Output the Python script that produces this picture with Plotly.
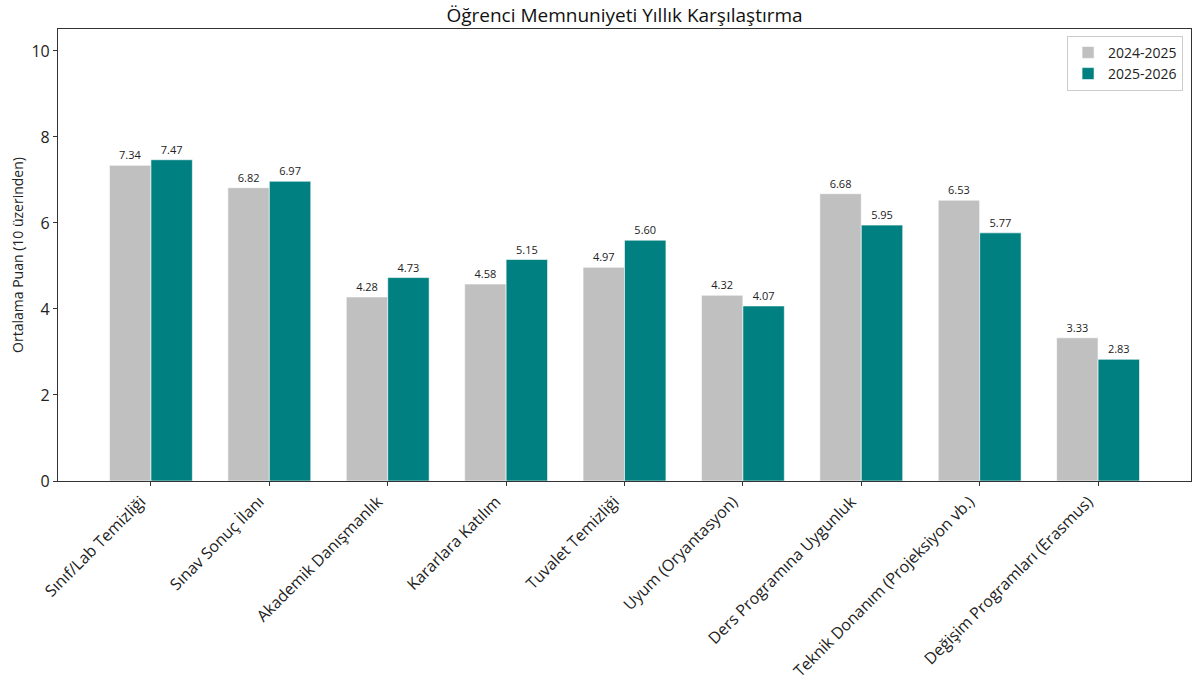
import plotly.graph_objects as go

categories = [
    "Sınıf/Lab Temizliği",
    "Sınav Sonuç İlanı",
    "Akademik Danışmanlık",
    "Kararlara Katılım",
    "Tuvalet Temizliği",
    "Uyum (Oryantasyon)",
    "Ders Programına Uygunluk",
    "Teknik Donanım (Projeksiyon vb.)",
    "Değişim Programları (Erasmus)",
]
series_names = ["2024-2025", "2025-2026"]
values_2024 = [7.34, 6.82, 4.28, 4.58, 4.97, 4.32, 6.68, 6.53, 3.33]
values_2025 = [7.47, 6.97, 4.73, 5.15, 5.60, 4.07, 5.95, 5.77, 2.83]
y_ticks = [0, 2, 4, 6, 8, 10]

FONT = "Open Sans"
colors = ["#C0C0C0", "#008080"]
W, H = 1198, 681

fig = go.Figure()
for name, vals, col in zip(series_names, [values_2024, values_2025], colors):
    fig.add_trace(go.Bar(
        x=categories, y=vals, name=name,
        marker=dict(color=col, line=dict(color="white", width=0.6)),
        text=[f"{v:.2f}" for v in vals],
        textposition="outside",
        cliponaxis=False,
        textfont=dict(family=FONT, size=11, color="#222222"),
    ))

fig.update_layout(
    width=W, height=H,
    margin=dict(l=58, r=7, t=29, b=200, autoexpand=False),
    paper_bgcolor="white", plot_bgcolor="white",
    barmode="group", bargap=0.3, bargroupgap=0,
    font=dict(family=FONT, color="#222222"),
    title=dict(text="Öğrenci Memnuniyeti Yıllık Karşılaştırma",
               x=0.5, xref="paper", xanchor="center",
               y=1 - 15 / H, yanchor="middle",
               font=dict(family=FONT, size=19, color="#111111")),
    showlegend=True,
    legend=dict(x=0.993, y=0.985, xanchor="right", yanchor="top",
                bgcolor="rgba(255,255,255,0.8)", bordercolor="#cccccc", borderwidth=1,
                font=dict(family=FONT, size=14, color="#222222"),
                itemwidth=30),
)
fig.update_xaxes(
    range=[-0.785, 8.785], tickangle=-45, automargin=False,
    showline=True, linecolor="#333333", linewidth=1.2, mirror=True,
    ticks="outside", ticklen=4, tickcolor="#333333",
    ticklabelshift=-10,
    tickfont=dict(family=FONT, size=16, color="#222222"),
)
fig.update_yaxes(
    range=[0, 10.51], tickvals=y_ticks, automargin=False,
    showline=True, linecolor="#333333", linewidth=1.2, mirror=True,
    ticks="outside", ticklen=4, tickcolor="#333333",
    showgrid=False, zeroline=False,
    tickfont=dict(family=FONT, size=16, color="#222222"),
    title=dict(text="Ortalama Puan (10 üzerinden)", standoff=4,
               font=dict(family=FONT, size=14, color="#222222")),
)

fig.write_html("out.html", config={"displayModeBar": False},
               post_script="document.body.style.margin='0';")
